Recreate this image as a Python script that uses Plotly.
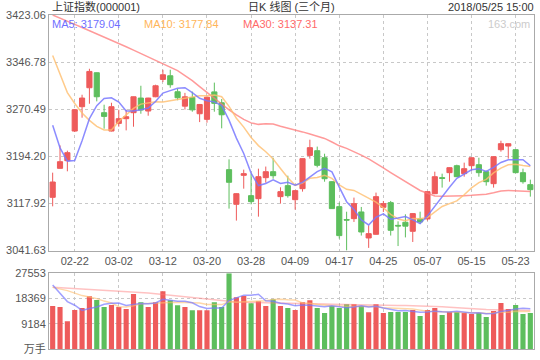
import plotly.graph_objects as go

# ---------------- data ----------------
dates = ["02-12", "02-13", "02-14", "02-22", "02-23", "02-26", "02-27", "02-28", "03-01", "03-02",
         "03-05", "03-06", "03-07", "03-08", "03-09", "03-12", "03-13", "03-14", "03-15", "03-16",
         "03-19", "03-20", "03-21", "03-22", "03-23", "03-26", "03-27", "03-28", "03-29", "03-30",
         "04-02", "04-03", "04-04", "04-09", "04-10", "04-11", "04-12", "04-13", "04-16", "04-17",
         "04-18", "04-19", "04-20", "04-23", "04-24", "04-25", "04-26", "04-27", "05-02", "05-03",
         "05-04", "05-07", "05-08", "05-09", "05-10", "05-11", "05-14", "05-15", "05-16", "05-17",
         "05-18", "05-21", "05-22", "05-23", "05-24", "05-25"]

opens = [3127.9, 3174.8, 3187.2, 3235.2, 3274.6, 3305.3, 3329.6, 3264.9, 3235.2, 3247.6,
         3255.2, 3264.9, 3288.6, 3267.6, 3290.7, 3318.8, 3324.7, 3298.8, 3275.5, 3289.5,
         3263.2, 3254.1, 3298.6, 3281.0, 3172.7, 3116.6, 3163.5, 3130.6, 3125.7, 3159.7,
         3169.4, 3129.0, 3146.8, 3124.1, 3141.9, 3195.8, 3203.4, 3192.0, 3153.2, 3112.8,
         3092.0, 3093.4, 3104.2, 3062.1, 3068.0, 3111.7, 3119.3, 3082.5, 3087.5, 3072.9,
         3092.9, 3092.9, 3133.8, 3159.7, 3167.8, 3179.1, 3166.2, 3179.1, 3180.7, 3169.4,
         3150.0, 3205.0, 3210.9, 3205.0, 3167.8, 3148.4]
highs = [3167.8, 3212.0, 3203.4, 3270.5, 3294.0, 3336.0, 3330.0, 3277.8, 3281.0, 3269.7,
         3269.7, 3291.0, 3308.5, 3289.0, 3310.2, 3334.4, 3334.4, 3303.5, 3297.0, 3299.0,
         3279.0, 3291.0, 3313.6, 3287.0, 3189.4, 3134.5, 3172.7, 3166.2, 3174.3, 3177.7,
         3192.0, 3144.1, 3162.9, 3139.5, 3191.0, 3221.2, 3210.0, 3198.5, 3154.0, 3119.3,
         3104.6, 3127.4, 3112.3, 3082.6, 3135.5, 3122.0, 3122.0, 3089.0, 3100.4, 3102.0,
         3104.6, 3137.5, 3169.4, 3166.2, 3176.5, 3180.7, 3184.0, 3192.5, 3192.0, 3171.0,
         3194.0, 3219.5, 3215.0, 3205.5, 3174.3, 3156.5]
lows = [3113.3, 3174.5, 3170.0, 3233.6, 3256.8, 3279.4, 3283.2, 3239.0, 3234.5, 3242.2,
        3236.3, 3242.2, 3263.2, 3260.0, 3290.0, 3314.5, 3305.3, 3285.1, 3270.0, 3266.5,
        3249.7, 3248.7, 3266.5, 3239.6, 3109.6, 3090.2, 3141.9, 3116.6, 3096.6, 3151.6,
        3158.0, 3117.7, 3127.4, 3107.9, 3137.1, 3190.5, 3176.4, 3153.2, 3109.0, 3061.0,
        3041.63, 3088.0, 3066.0, 3046.0, 3067.5, 3104.2, 3066.0, 3049.0, 3063.0, 3055.6,
        3084.8, 3090.2, 3133.0, 3143.6, 3153.2, 3161.0, 3161.3, 3171.0, 3161.3, 3146.8,
        3143.6, 3201.8, 3190.5, 3167.0, 3150.0, 3129.0]
closes = [3152.7, 3185.6, 3200.2, 3269.7, 3288.6, 3331.7, 3290.7, 3258.9, 3274.6, 3255.2,
          3258.4, 3290.7, 3269.2, 3288.6, 3308.5, 3326.3, 3310.2, 3289.1, 3290.6, 3269.5,
          3278.2, 3290.0, 3280.0, 3261.5, 3152.2, 3133.8, 3166.2, 3120.9, 3161.3, 3169.4,
          3162.9, 3137.1, 3130.6, 3138.7, 3190.5, 3208.3, 3179.7, 3158.0, 3109.6, 3065.9,
          3091.0, 3117.7, 3071.8, 3069.1, 3129.0, 3117.7, 3074.5, 3081.5, 3081.2, 3101.5,
          3088.0, 3137.1, 3161.3, 3158.6, 3175.9, 3161.3, 3174.3, 3192.0, 3167.8, 3153.2,
          3193.7, 3214.7, 3214.7, 3167.8, 3153.2, 3140.3]

ma5 = [3244.5, 3208.0, 3186.5, 3187.4, 3219.4, 3255.2, 3276.2, 3287.9, 3288.9, 3282.2,
       3267.6, 3267.6, 3269.6, 3272.4, 3283.1, 3296.7, 3300.6, 3304.5, 3305.3, 3297.5,
       3288.2, 3284.3, 3282.4, 3276.4, 3252.9, 3223.8, 3198.9, 3167.1, 3146.9, 3150.3,
       3156.1, 3150.3, 3152.3, 3147.7, 3152.0, 3161.0, 3169.6, 3175.0, 3169.2, 3144.3,
       3120.8, 3108.4, 3091.2, 3083.1, 3095.7, 3101.1, 3092.4, 3094.4, 3096.8, 3091.3,
       3085.3, 3097.9, 3113.8, 3129.3, 3144.2, 3158.8, 3166.3, 3172.4, 3174.3, 3169.7,
       3176.2, 3184.3, 3188.8, 3188.8, 3188.8, 3179.0]
ma10 = [3357.6, 3326.7, 3297.5, 3279.8, 3264.5, 3252.5, 3242.8, 3236.9, 3236.9, 3250.8,
        3261.4, 3271.9, 3278.8, 3280.7, 3282.7, 3282.1, 3284.1, 3287.1, 3288.9, 3290.3,
        3292.4, 3292.4, 3293.5, 3290.8, 3275.2, 3256.0, 3241.6, 3224.7, 3211.6, 3201.6,
        3190.0, 3174.6, 3159.7, 3147.3, 3151.1, 3158.6, 3159.9, 3163.7, 3158.5, 3148.1,
        3140.9, 3139.0, 3133.1, 3126.2, 3120.0, 3111.0, 3100.4, 3092.8, 3089.9, 3093.5,
        3093.2, 3095.1, 3104.1, 3113.0, 3117.7, 3122.1, 3132.1, 3143.1, 3151.8, 3157.0,
        3167.5, 3175.3, 3180.6, 3181.5, 3179.3, 3177.8]
ma30 = [3423.06, 3417.6, 3412.6, 3407.8, 3402.8, 3397.8, 3392.8, 3387.8, 3382.8, 3377.2,
        3371.6, 3366.1, 3360.6, 3355.1, 3349.8, 3344.2, 3339.4, 3332.9, 3324.9, 3316.8,
        3307.2, 3297.5, 3287.9, 3279.0, 3269.4, 3261.3, 3254.1, 3248.4, 3246.0, 3246.8,
        3246.5, 3242.8, 3240.1, 3237.2, 3233.8, 3230.3, 3227.2, 3223.2, 3217.4, 3211.3,
        3207.1, 3202.1, 3196.1, 3190.2, 3183.3, 3175.5, 3168.0, 3160.7, 3153.0, 3145.1,
        3139.0, 3134.5, 3130.1, 3129.7, 3129.7, 3130.1, 3130.6, 3131.1, 3131.4, 3132.9,
        3135.3, 3138.2, 3139.0, 3138.7, 3137.9, 3137.3]

volumes = [15636, 15275, 10111, 14191, 14913, 19138, 17802, 15275, 15997, 15275,
           14552, 19969, 16972, 15275, 16972, 20944, 17694, 15888, 15275, 14083,
           14083, 14083, 16972, 15275, 27553, 18777, 19246, 16611, 17333, 15636,
           18055, 15636, 14913, 14191, 16972, 17694, 14913, 13108, 15636, 14913,
           16250, 16250, 15636, 13361, 16250, 13108, 13469, 13469, 13469, 14191,
           12025, 14191, 14913, 12386, 13469, 13469, 13108, 12747, 13108, 11664,
           13830, 16719, 14552, 15997, 12747, 13108]
vol_ma5 = [23219, 20240, 17224, 15890, 14025, 14726, 15231, 16264, 16625, 16697,
           15780, 16214, 16553, 16409, 16748, 18026, 17571, 17355, 17355, 16777,
           15405, 14682, 14899, 14899, 17593, 18532, 19565, 19492, 19904, 17521,
           17376, 16654, 16315, 15686, 15953, 15881, 15737, 15376, 15665, 15253,
           14964, 15231, 15737, 15282, 15549, 14921, 14365, 13931, 13953, 13541,
           13325, 13469, 13758, 13541, 13397, 13686, 13469, 13036, 13180, 12839,
           12911, 13634, 13995, 14572, 14789, 14645]
vol_ma10 = [22388, 21800, 21200, 20300, 19400, 18900, 18300, 17400, 16700, 15361,
            15253, 15722, 16408, 16517, 16723, 16903, 16893, 16954, 16882, 16762,
            16716, 16127, 16127, 16127, 17185, 16968, 17124, 17196, 17402, 17557,
            17954, 18109, 17904, 17795, 16737, 16629, 16195, 15845, 15675, 15603,
            15423, 15484, 15556, 15473, 15401, 14943, 14798, 14834, 14618, 14545,
            14123, 13717, 13645, 13547, 13269, 13305, 13269, 13197, 13161, 12908,
            13089, 13341, 13305, 13666, 13614, 13578]
vol_ma30 = [22388, 22250, 22110, 21920, 21775, 21590, 21410, 21230, 21045, 20880,
            20750, 20615, 20475, 20340, 20090, 19820, 19560, 19290, 19000, 18650,
            18300, 18000, 17700, 17520, 17290, 17100, 16960, 16880, 16800, 16720,
            16640, 16560, 16500, 16450, 16400, 16355, 16330, 16310, 16285, 16260,
            16240, 16210, 16180, 16150, 16060, 15980, 15900, 15830, 15760, 15710,
            15640, 15590, 15530, 15340, 15130, 14920, 14700, 14530, 14420, 14310,
            14220, 14190, 14140, 14080, 14020, 13970]

tick_dates = ["02-22", "03-02", "03-12", "03-20", "03-28", "04-09",
              "04-17", "04-25", "05-07", "05-15", "05-23"]
price_ticks = [3041.63, 3117.92, 3194.20, 3270.49, 3346.78, 3423.06]
vol_ticks = [0, 9184, 18369, 27553]
vol_tick_text = ["万手", "9184", "18369", "27553"]

title_left = "上证指数(000001)"
title_mid = "日K 线图 (三个月)"
title_right = "2018/05/25 15:00"
ma_labels = ["MA5: 3179.04", "MA10: 3177.84", "MA30: 3137.31"]
watermark = "163.com"

# ---------------- style ----------------
RED = "#ee5b5b"
GREEN = "#5dbe5d"
C_MA5 = "rgba(120,120,255,0.85)"
C_MA10 = "rgba(255,190,110,0.8)"
C_MA30 = "rgba(255,120,120,0.75)"
FONT = "Liberation Sans, Arial, Noto Sans CJK SC, sans-serif"
GRID = "#c8c8c8"
AXIS = "#aaaaaa"

fig = go.Figure()

fig.add_trace(go.Candlestick(
    x=dates, open=opens, high=highs, low=lows, close=closes,
    increasing=dict(line=dict(color=RED, width=1), fillcolor=RED),
    decreasing=dict(line=dict(color=GREEN, width=1), fillcolor=GREEN),
    whiskerwidth=0, hoverinfo="skip", showlegend=False,
    xaxis="x", yaxis="y"))

for vals, col in [(ma30, C_MA30), (ma10, C_MA10), (ma5, C_MA5)]:
    fig.add_trace(go.Scatter(x=dates, y=vals, mode="lines",
                             line=dict(color=col, width=1.5),
                             hoverinfo="skip", showlegend=False,
                             xaxis="x", yaxis="y"))

bar_colors = [RED if c > o else GREEN for o, c in zip(opens, closes)]
fig.add_trace(go.Bar(x=dates, y=volumes, marker=dict(color=bar_colors, line=dict(width=0)),
                     hoverinfo="skip", showlegend=False, xaxis="x2", yaxis="y2"))

for vals, col in [(vol_ma30, "rgba(255,120,120,0.45)"), (vol_ma10, "rgba(255,190,110,0.6)"),
                  (vol_ma5, "rgba(120,120,255,0.7)")]:
    fig.add_trace(go.Scatter(x=dates, y=vals, mode="lines",
                             line=dict(color=col, width=1.5),
                             hoverinfo="skip", showlegend=False,
                             xaxis="x2", yaxis="y2"))

H_PLOT = 336.0
def py(pix):
    return 1 - (pix - 15) / H_PLOT

def px(pix):
    return (pix - 49) / 486.0

axis_common = dict(showline=True, linecolor=AXIS, linewidth=1, mirror=True,
                   showgrid=True, gridcolor=GRID, griddash="3px,3px", gridwidth=1,
                   zeroline=False, ticks="", fixedrange=True,
                   tickfont=dict(family=FONT, size=11, color="#555555"))

fig.update_layout(
    width=540, height=360,
    margin=dict(l=49, r=5, t=15, b=9),
    paper_bgcolor="white", plot_bgcolor="white",
    showlegend=False, bargap=0.3, boxgap=0.3, boxgroupgap=0,
    xaxis=dict(axis_common, type="category", domain=[0, 1], anchor="y",
               range=[-0.5, len(dates) - 0.5], tickmode="array", tickvals=tick_dates,
               rangeslider=dict(visible=False)),
    yaxis=dict(axis_common, domain=[0.2946, 1], anchor="x",
               range=[price_ticks[0], price_ticks[-1]], tickmode="array",
               tickvals=price_ticks, ticktext=["%.2f" % v for v in price_ticks]),
    xaxis2=dict(axis_common, type="category", domain=[0, 1], anchor="y2", matches="x",
                tickmode="array", tickvals=tick_dates, showticklabels=False),
    yaxis2=dict(axis_common, domain=[0, 0.2271], anchor="x2",
                range=[vol_ticks[0], vol_ticks[-1]], tickmode="array",
                tickvals=vol_ticks, ticktext=vol_tick_text),
)

ann = []
hdr = dict(family=FONT, size=11, color="#333333")
ann.append(dict(text=title_left, x=px(50), y=py(6.5), xanchor="left", yanchor="middle", font=hdr))
ann.append(dict(text=title_mid, x=0.5, y=py(6.5), xanchor="center", yanchor="middle", font=hdr))
ann.append(dict(text=title_right, x=px(537), y=py(6.5), xanchor="right", yanchor="middle", font=hdr))
for lab, xp, col in zip(ma_labels, [50, 142.5, 241], ["#6f6fff", "#ffb55a", "#ff6a6a"]):
    ann.append(dict(text=lab, x=px(xp), y=py(24.2), xanchor="left", yanchor="middle",
                    font=dict(family=FONT, size=11, color=col)))
ann.append(dict(text=watermark, x=px(533), y=py(24.2), xanchor="right", yanchor="middle",
                font=dict(family=FONT, size=11, color="#cccccc")))
for a in ann:
    a.update(xref="paper", yref="paper", showarrow=False)
fig.update_layout(annotations=ann)

fig.write_html("out.html", config={"displayModeBar": False, "staticPlot": True},
               post_script="document.body.style.margin='0';document.body.style.padding='0';")
